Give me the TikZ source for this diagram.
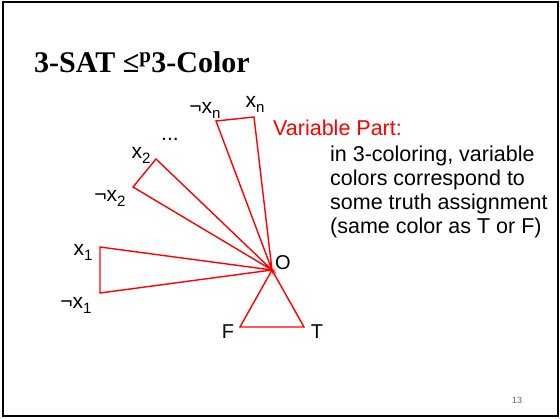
\documentclass[tikz,border=0pt]{standalone}
\usepackage{fontspec}
\setmainfont{Liberation Sans}
\newfontfamily\titlefont{Liberation Serif}
\newcommand{\lsub}[1]{\raisebox{-0.45ex}{\fontsize{15}{15}\selectfont #1}}
\begin{document}
\begin{tikzpicture}[x=1pt,y=-1pt,
  gadget/.style={draw=red,line width=1.4pt,line join=miter},
  lbl/.style={inner sep=0pt,font=\fontsize{21}{22}\selectfont},
  small/.style={inner sep=0pt,font=\fontsize{20}{22}\selectfont},
  body/.style={inner sep=0pt,anchor=base west,font=\fontsize{21.5}{24}\selectfont}]
\useasboundingbox (0,0) rectangle (560,418);
\draw[line width=1.5pt] (3,2) rectangle (558,416);
\node[inner sep=0pt,anchor=base west,font=\titlefont\fontsize{30}{32}\selectfont\bfseries] (title) at (34,72) {3-SAT ≤\textsuperscript{p}3-Color};
% points
\coordinate (O) at (272,270);
\coordinate (xn) at (254,117);
\coordinate (nxn) at (216,121);
\coordinate (x2) at (156,159);
\coordinate (nx2) at (133,187);
\coordinate (x1) at (100,247);
\coordinate (nx1) at (100,293);
\coordinate (F) at (240,327);
\coordinate (T) at (304,327);
\draw[gadget] (O) -- (xn) -- (nxn) -- cycle;
\draw[gadget] (O) -- (x2) -- (nx2) -- cycle;
\draw[gadget] (O) -- (x1) -- (nx1) -- cycle;
\draw[gadget] (O) -- (F) -- (T) -- cycle;
% labels
\node[lbl] (lxn) at (255,104) {x\lsub{n}};
\node[lbl] (lnxn) at (205,110) {¬x\lsub{n}};
\node[lbl] (dots) at (170,139) {...};
\node[lbl] (lx2) at (141,155) {x\lsub{2}};
\node[lbl] (lnx2) at (110,198) {¬x\lsub{2}};
\node[lbl] (lx1) at (83,252) {x\lsub{1}};
\node[lbl] (lnx1) at (76,305) {¬x\lsub{1}};
\node[small] (lO) at (283,263) {O};
\node[small] (lF) at (228,332) {F};
\node[small] (lT) at (317,332) {T};
% text
\node[body,text=red] (vp) at (273,135) {Variable Part:};
\node[body] (t1) at (330,161) {in 3-coloring, variable};
\node[body] (t2) at (330,185) {colors correspond to};
\node[body] (t3) at (330,209) {some truth assignment};
\node[body] (t4) at (330,233) {(same color as T or F)};
\node[inner sep=0pt,text=black!60,font=\fontsize{9}{10}\selectfont] (pg) at (517,400) {13};
\end{tikzpicture}
\end{document}
